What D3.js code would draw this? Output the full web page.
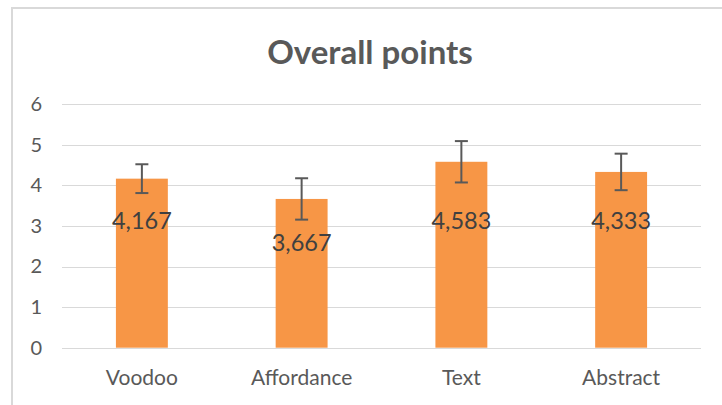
<!DOCTYPE html>
<html>
<head>
<meta charset="utf-8">
<script src="https://cdn.jsdelivr.net/npm/d3@7"></script>
<style>
  html, body { margin: 0; padding: 0; background: #fff; }
  svg { display: block; }
  text { font-family: Lato, "Open Sans", sans-serif; }
</style>
</head>
<body>
<svg id="chart" width="722" height="405"></svg>
<script>
const title = "Overall points";
const categories = ["Voodoo", "Affordance", "Text", "Abstract"];
const values = [4.167, 3.667, 4.583, 4.333];
const errors = [0.355, 0.51, 0.51, 0.45];
const valueLabels = ["4,167", "3,667", "4,583", "4,333"];
const labelAnchor = [3.14, 2.59, 3.135, 3.135];
const yTicks = [0, 1, 2, 3, 4, 5, 6];

const W = 722, H = 405;
const plot = { left: 62, right: 701, top: 104.3, bottom: 347.7 };

const svg = d3.select("#chart");

// chart border
svg.append("rect")
  .attr("x", 12).attr("y", 8)
  .attr("width", 740).attr("height", 420)
  .attr("fill", "#fff")
  .attr("stroke", "#d9d9d9").attr("stroke-width", 2);

const x = d3.scaleBand().domain(categories).range([plot.left, plot.right]).padding(0);
const y = d3.scaleLinear().domain([0, 6]).range([plot.bottom, plot.top]);

// title
svg.append("text")
  .attr("x", 370).attr("y", 64)
  .attr("text-anchor", "middle")
  .attr("font-size", 33).attr("font-weight", "bold")
  .attr("fill", "#595959")
  .text(title);

// gridlines
svg.append("g").selectAll("line").data(yTicks).join("line")
  .attr("x1", plot.left).attr("x2", plot.right)
  .attr("y1", d => Math.round(y(d)) + 0.5).attr("y2", d => Math.round(y(d)) + 0.5)
  .attr("stroke", "#d9d9d9").attr("stroke-width", 1);

// y axis labels
const yAxis = d3.axisLeft(y).tickValues(yTicks).tickSize(0).tickPadding(0).tickFormat(d3.format("d"));
const yg = svg.append("g").attr("transform", "translate(42,0)").call(yAxis);
yg.select(".domain").remove();
yg.selectAll("text")
  .attr("font-size", 20).attr("fill", "#595959")
  .attr("font-family", "Lato, sans-serif");

// x axis labels
const xAxis = d3.axisBottom(x).tickSize(0).tickPadding(0);
const xg = svg.append("g").attr("transform", `translate(0,${plot.bottom})`).call(xAxis);
xg.select(".domain").remove();
xg.selectAll("text")
  .attr("font-size", 21).attr("fill", "#595959")
  .attr("font-family", "Lato, sans-serif")
  .attr("dy", null).attr("y", 37.5);

// bars
const barW = x.bandwidth() * 0.325;
const cx = d => x(d) + x.bandwidth() / 2;
svg.append("g").selectAll("rect").data(categories).join("rect")
  .attr("x", d => cx(d) - barW / 2)
  .attr("width", barW)
  .attr("y", (d, i) => y(values[i]))
  .attr("height", (d, i) => y(0) - y(values[i]))
  .attr("fill", "#f79646");

// error bars
const capW = 13;
const eg = svg.append("g").attr("stroke", "#595959").attr("stroke-width", 2);
categories.forEach((c, i) => {
  const hi = y(values[i] + errors[i]), lo = y(values[i] - errors[i]);
  eg.append("line").attr("x1", cx(c)).attr("x2", cx(c)).attr("y1", hi).attr("y2", lo);
  eg.append("line").attr("x1", cx(c) - capW / 2).attr("x2", cx(c) + capW / 2).attr("y1", hi).attr("y2", hi);
  eg.append("line").attr("x1", cx(c) - capW / 2).attr("x2", cx(c) + capW / 2).attr("y1", lo).attr("y2", lo);
});

// data labels
svg.append("g").selectAll("text").data(categories).join("text")
  .attr("x", d => cx(d))
  .attr("y", (d, i) => y(labelAnchor[i]))
  .attr("dy", "0.36em")
  .attr("text-anchor", "middle")
  .attr("font-size", 23.5).attr("fill", "#404040")
  .text((d, i) => valueLabels[i]);
</script>
</body>
</html>
